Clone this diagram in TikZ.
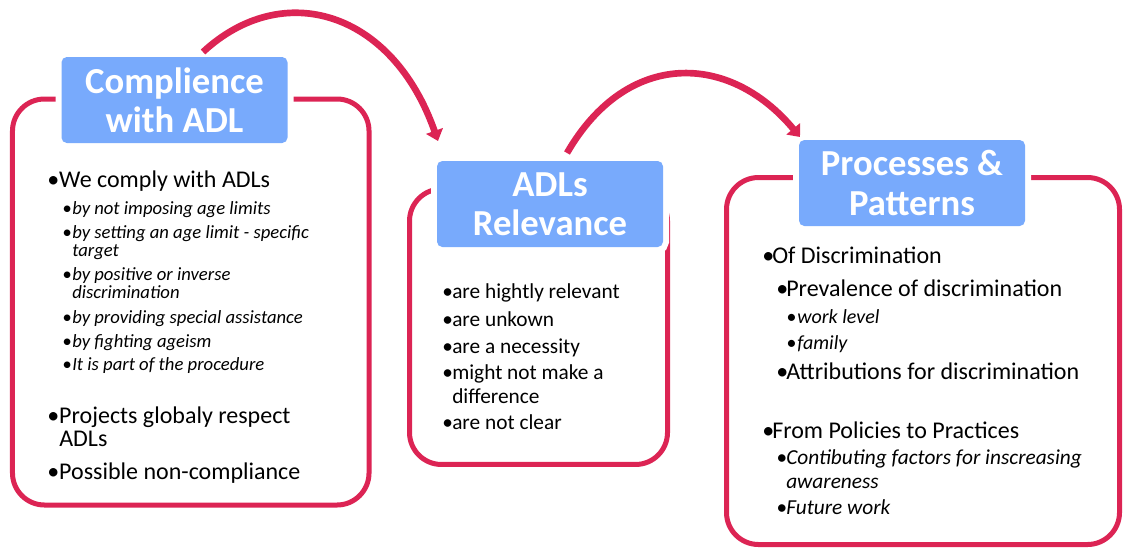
\documentclass[tikz,border=0pt]{standalone}
\usepackage{fontspec}
\setmainfont{Carlito}
\usetikzlibrary{arrows.meta,calc,positioning}
\definecolor{frameColor}{RGB}{220,36,84}
\definecolor{headColor}{RGB}{120,170,252}
\newcommand{\itemdot}[1][7.5pt]{\makebox[#1][l]{\textbullet}}
\tikzset{frame/.style={draw=frameColor, line width=3.75pt, rounded corners=24pt, inner sep=0pt}}
\tikzset{heading/.style={fill=headColor, text=white, align=center, rounded corners=4pt, inner sep=0pt, outer sep=0pt, minimum width=169.5pt, minimum height=64.5pt, font=\bfseries\fontsize{27.5}{29.5}\selectfont, preaction={draw=white, line width=9pt}}}
\tikzset{flow/.style={draw=frameColor, line width=5pt, -{Triangle[width=13pt,length=8pt]}}}
\tikzset{entry/.style={anchor=base west, inner sep=0pt, yshift=-1.1pt}}
\tikzset{txtL/.style={entry, font=\fontsize{18}{18}\selectfont}}
\tikzset{txtM/.style={entry, font=\fontsize{16}{16}\selectfont}}
\tikzset{itS/.style={entry, font=\itshape\fontsize{14}{14}\selectfont}}
\tikzset{itF/.style={entry, font=\itshape\fontsize{15}{15}\selectfont}}
\tikzset{itM/.style={entry, font=\itshape\fontsize{16}{16}\selectfont}}

\begin{document}
\begin{tikzpicture}[x=0.75pt, y=-0.75pt]
\useasboundingbox (0,0) rectangle (1123,547);

% Frames
    \node (frA) [frame, minimum width=267.4pt, minimum height=304.5pt] at (190.75,302) {};
    \node (frB) [frame, minimum width=193.5pt, minimum height=206.6pt] at (538.5,326.75) {};
    \node (frC) [frame, minimum width=294.75pt, minimum height=275.25pt] at (923,361) {};

% Headings
    \node (hdA) [heading] at (174.5,100) {Complience\\with ADL};
    \node (hdB) [heading] at (550,204) {ADLs\\Relevance};
    \node (hdC) [heading] at (912,183) {Processes \&\\Patterns};

% Connectors
    \draw [flow] ($(hdA.north)+(28.5,-5)$) .. controls +(80,-74) and +(-45.5,-130) .. ($(hdB.north west)+(1,-20)$);
    \draw [flow] ($(hdB.north)+(17,-8)$) .. controls +(60,-104) and +(-70.4,-84.7) .. ($(hdC.north west)+(1,-3)$);

% Compliance items
    \node (cmA1) [txtL] at (47,186) {\itemdot[9pt]We comply with ADLs};
    \node (cmA2) [itS] at (62,213) {\itemdot by not imposing age limits};
    \node (cmA3) [itS] at (62,237) {\itemdot by setting an age limit - specific};
    \node (cmA3b) [itS] at (72,255) {target};
    \node (cmA4) [itS] at (62,279) {\itemdot by positive or inverse};
    \node (cmA4b) [itS] at (72,297) {discrimination};
    \node (cmA5) [itS] at (62,322) {\itemdot by providing special assistance};
    \node (cmA6) [itS] at (62,346) {\itemdot by fighting ageism};
    \node (cmA7) [itS] at (62,369) {\itemdot It is part of the procedure};
    \node (cmA8) [txtL] at (47,422) {\itemdot[9pt]Projects globaly respect};
    \node (cmA8b) [txtL] at (59,445) {ADLs};
    \node (cmA9) [txtL] at (47,478) {\itemdot[9pt]Possible non-compliance};

% Relevance items
    \node (rlB1) [txtM] at (442,297) {\itemdot are hightly relevant};
    \node (rlB2) [txtM] at (442,325) {\itemdot are unkown};
    \node (rlB3) [txtM] at (442,352) {\itemdot are a necessity};
    \node (rlB4) [txtM] at (442,378) {\itemdot might not make a};
    \node (rlB4b) [txtM] at (452,402) {difference};
    \node (rlB5) [txtM] at (442,428) {\itemdot are not clear};

% Processes items
    \node (prC1) [txtL] at (762,262) {\itemdot Of Discrimination};
    \node (prC2) [txtL] at (776,295) {\itemdot Prevalence of discrimination};
    \node (prC3) [itF] at (786,322) {\itemdot[8.25pt]work level};
    \node (prC4) [itF] at (786,348) {\itemdot[8.25pt]family};
    \node (prC5) [txtL] at (776,378) {\itemdot Attributions for discrimination};
    \node (prC6) [txtL] at (762,437) {\itemdot From Policies to Practices};
    \node (prC7) [itM] at (776,463) {\itemdot Contibuting factors for inscreasing};
    \node (prC7b) [itM] at (786,487) {awareness};
    \node (prC8) [itM] at (776,513) {\itemdot Future work};

\end{tikzpicture}
\end{document}
